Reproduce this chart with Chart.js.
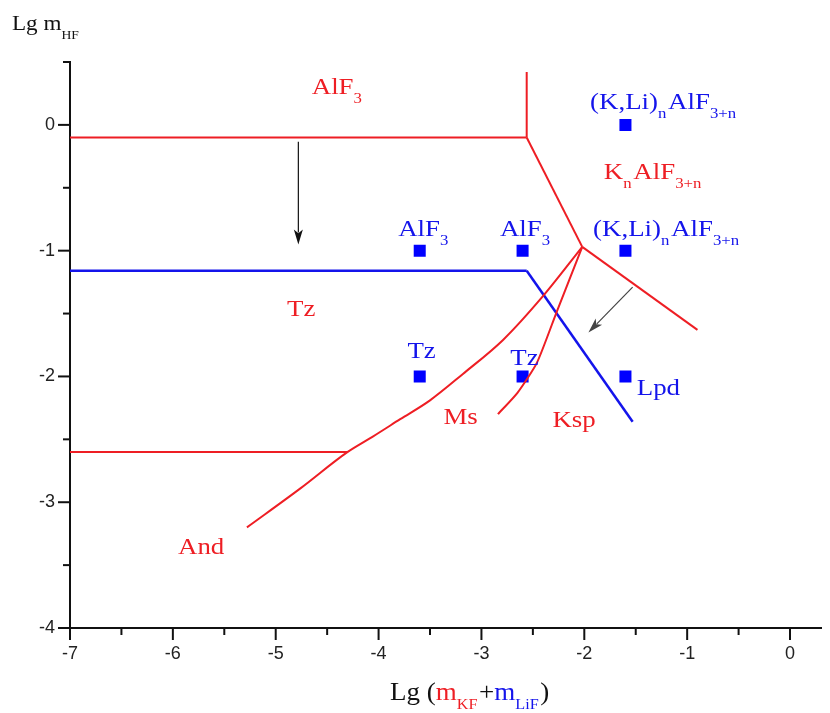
<!DOCTYPE html>
<html>
<head>
<meta charset="utf-8">
<script src="https://cdn.jsdelivr.net/npm/chart.js@4.4.1/dist/chart.umd.min.js"></script>
<style>
  body { margin: 0; background: #fff; overflow: hidden; }
  #wrap { width: 830px; height: 713px; position: relative; }
</style>
</head>
<body>
<div id="wrap"><canvas id="phase"></canvas></div>
<script>
// axis ticks
const xTicks = [-7, -6.5, -6, -5.5, -5, -4.5, -4, -3.5, -3, -2.5, -2, -1.5, -1, -0.5, 0];
const yTicks = [-4, -3.5, -3, -2.5, -2, -1.5, -1, -0.5, 0, 0.5];

// red boundaries (lg mKF+mLiF, lg mHF)
const alf3TopX = [-7, -2.56];
const alf3TopY = [-0.1, -0.1];
const alf3VertX = [-2.56, -2.56];
const alf3VertY = [-0.1, 0.42];
const knDiagX = [-2.56, -2.02];
const knDiagY = [-0.1, -0.97];
const knRightX = [-2.02, -0.9];
const knRightY = [-0.97, -1.63];
const andLowX = [-7, -4.3];
const andLowY = [-2.6, -2.6];
const andMsX = [-5.28, -4.76, -4.3, -4.06, -3.79, -3.5, -3.18, -2.79, -2.4, -2.02];
const andMsY = [-3.2, -2.89, -2.6, -2.48, -2.34, -2.19, -1.98, -1.71, -1.36, -0.97];
const kspX = [-2.02, -2.27, -2.46, -2.65, -2.84];
const kspY = [-0.97, -1.49, -1.89, -2.13, -2.3];

// blue boundaries (with Li)
const tzTopX = [-7, -2.56];
const tzTopY = [-1.16, -1.16];
const lpdX = [-2.56, -1.53];
const lpdY = [-1.16, -2.36];

// experiment points
const expX = [-1.6, -3.6, -2.6, -1.6, -3.6, -2.6, -1.6];
const expY = [0, -1, -1, -1, -2, -2, -2];

// arrows [x0, y0, x1, y1]
const arrowDown = [-4.78, -0.135, -4.78, -0.95];
const arrowDiag = [-1.53, -1.29, -1.96, -1.65];

const RED = 'rgb(238,30,36)';
const BLUE = 'rgb(20,20,235)';

function pts(xs, ys) { return xs.map((x, i) => ({ x: x, y: ys[i] })); }
function redLine(xs, ys) {
  return { data: pts(xs, ys), borderColor: RED, borderWidth: 2, pointRadius: 0, showLine: true, tension: 0 };
}
function blueLine(xs, ys) {
  return { data: pts(xs, ys), borderColor: BLUE, borderWidth: 2.5, pointRadius: 0, showLine: true, tension: 0 };
}

const datasets = [
  redLine(alf3TopX, alf3TopY),
  redLine(alf3VertX, alf3VertY),
  redLine(knDiagX, knDiagY),
  redLine(knRightX, knRightY),
  redLine(andLowX, andLowY),
  Object.assign(redLine(andMsX, andMsY), { cubicInterpolationMode: 'monotone' }),
  Object.assign(redLine(kspX, kspY), { tension: 0.2 }),
  blueLine(tzTopX, tzTopY),
  blueLine(lpdX, lpdY),
  { data: pts(expX, expY), showLine: false, pointStyle: 'rect', pointRadius: 8.5,
    backgroundColor: 'rgb(0,0,255)', borderColor: 'rgb(0,0,255)', borderWidth: 0 }
];

// text labels: [x, y, colour, parts]; parts = [text, isSub]
const labels = [
  [-4.65, 0.247, RED, [['AlF', 0], ['3', 1]]],
  [-1.944, 0.128, BLUE, [['(K,Li)', 0], ['n', 1], ['AlF', 0], ['3+n', 1]]],
  [-1.81, -0.43, RED, [['K', 0], ['n', 1], ['AlF', 0], ['3+n', 1]]],
  [-1.915, -0.885, BLUE, [['(K,Li)', 0], ['n', 1], ['AlF', 0], ['3+n', 1]]],
  [-3.81, -0.885, BLUE, [['AlF', 0], ['3', 1]]],
  [-2.82, -0.885, BLUE, [['AlF', 0], ['3', 1]]],
  [-4.89, -1.52, RED, [['Tz', 0]]],
  [-3.72, -1.85, BLUE, [['Tz', 0]]],
  [-2.72, -1.906, BLUE, [['Tz', 0]]],
  [-1.49, -2.15, BLUE, [['Lpd', 0]]],
  [-3.37, -2.38, RED, [['Ms', 0]]],
  [-2.31, -2.4, RED, [['Ksp', 0]]],
  [-5.95, -3.41, RED, [['And', 0]]]
];

function drawRich(ctx, x, y, parts, size, subSize, subDrop, sx) {
  ctx.save();
  ctx.translate(x, y);
  ctx.scale(sx, 1);
  let cx = 0;
  parts.forEach(p => {
    if (p[2]) ctx.fillStyle = p[2];
    if (p[1]) {
      ctx.font = subSize + 'px "Liberation Serif"';
      ctx.fillText(p[0], cx, subDrop);
    } else {
      ctx.font = size + 'px "Liberation Serif"';
      ctx.fillText(p[0], cx, 0);
    }
    cx += ctx.measureText(p[0]).width + (p[1] ? 1.5 : 0);
  });
  ctx.restore();
}

function drawArrow(ctx, xs, ys, a, color) {
  const x0 = xs.getPixelForValue(a[0]), y0 = ys.getPixelForValue(a[1]);
  const x1 = xs.getPixelForValue(a[2]), y1 = ys.getPixelForValue(a[3]);
  const ang = Math.atan2(y1 - y0, x1 - x0);
  const hl = 15, hw = 4.5;
  ctx.strokeStyle = color; ctx.fillStyle = color; ctx.lineWidth = 1.2;
  ctx.beginPath();
  ctx.moveTo(x0, y0);
  ctx.lineTo(x1 - hl * 0.8 * Math.cos(ang), y1 - hl * 0.8 * Math.sin(ang));
  ctx.stroke();
  ctx.beginPath();
  ctx.moveTo(x1, y1);
  ctx.lineTo(x1 - hl * Math.cos(ang) - hw * Math.sin(ang), y1 - hl * Math.sin(ang) + hw * Math.cos(ang));
  ctx.lineTo(x1 - hl * 0.75 * Math.cos(ang), y1 - hl * 0.75 * Math.sin(ang));
  ctx.lineTo(x1 - hl * Math.cos(ang) + hw * Math.sin(ang), y1 - hl * Math.sin(ang) - hw * Math.cos(ang));
  ctx.closePath();
  ctx.fill();
}

const overlay = {
  id: 'overlay',
  afterDraw(chart) {
    const ctx = chart.ctx;
    const xs = chart.scales.x, ys = chart.scales.y;
    const area = chart.chartArea;
    ctx.save();

    // tick marks, long for integers, short for halves
    ctx.strokeStyle = '#111';
    ctx.lineWidth = 2;
    xs.ticks.forEach(t => {
      const px = xs.getPixelForValue(t.value);
      const len = Number.isInteger(t.value) ? 12 : 7;
      ctx.beginPath(); ctx.moveTo(px, area.bottom); ctx.lineTo(px, area.bottom + len); ctx.stroke();
    });
    ys.ticks.forEach(t => {
      const py = ys.getPixelForValue(t.value);
      const len = Number.isInteger(t.value) ? 12 : 7;
      ctx.beginPath(); ctx.moveTo(area.left - len, py); ctx.lineTo(area.left, py); ctx.stroke();
    });

    // arrows
    drawArrow(ctx, xs, ys, arrowDown, '#111');
    drawArrow(ctx, xs, ys, arrowDiag, '#444');

    // field labels
    ctx.textBaseline = 'alphabetic';
    ctx.textAlign = 'left';
    labels.forEach(l => {
      ctx.fillStyle = l[2];
      drawRich(ctx, xs.getPixelForValue(l[0]), ys.getPixelForValue(l[1]), l[3], 24, 15, 9, 1.12);
    });

    // axis titles
    ctx.fillStyle = '#111';
    drawRich(ctx, 12, 30, [['Lg m', 0, '#111'], ['HF', 1]], 22, 13, 9, 1.05);
    drawRich(ctx, 390, 700, [['Lg (', 0, '#111'], ['m', 0, RED], ['KF', 1], ['+', 0, '#111'],
      ['m', 0, BLUE], ['LiF', 1], [')', 0, '#111']], 25, 15, 9, 1.08);
    ctx.restore();
  }
};

new Chart(document.getElementById('phase'), {
  type: 'scatter',
  data: { datasets: datasets },
  options: {
    responsive: true,
    maintainAspectRatio: false,
    animation: false,
    layout: { padding: { top: 62, right: 2, left: 0, bottom: 0 } },
    plugins: { legend: { display: false }, tooltip: { enabled: false } },
    scales: {
      x: {
        type: 'linear', min: -7, max: 0.306,
        afterBuildTicks: s => { s.ticks = xTicks.map(v => ({ value: v })); },
        afterFit: s => { s.height = 85; s.paddingLeft = 0; s.paddingRight = 0; },
        grid: { display: false, drawTicks: false },
        border: { display: true, color: '#111', width: 2 },
        ticks: {
          autoSkip: false, maxRotation: 0, padding: 15, color: '#222',
          font: { family: '"Liberation Sans"', size: 18 },
          callback: v => Number.isInteger(v) ? String(v) : ''
        }
      },
      y: {
        type: 'linear', min: -4, max: 0.5,
        afterBuildTicks: s => { s.ticks = yTicks.map(v => ({ value: v })); },
        afterFit: s => { s.width = 70; s.paddingTop = 0; s.paddingBottom = 0; },
        grid: { display: false, drawTicks: false },
        border: { display: true, color: '#111', width: 2 },
        ticks: {
          autoSkip: false, padding: 15, color: '#222',
          font: { family: '"Liberation Sans"', size: 18 },
          callback: v => Number.isInteger(v) ? String(v) : ''
        }
      }
    }
  },
  plugins: [overlay]
});
</script>
</body>
</html>
